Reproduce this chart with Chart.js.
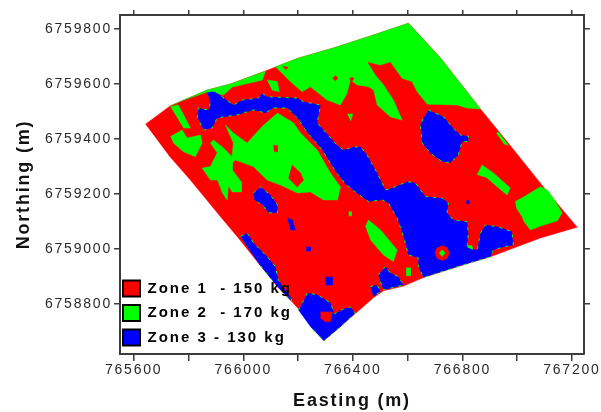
<!DOCTYPE html>
<html>
<head>
<meta charset="utf-8">
<script src="https://cdn.jsdelivr.net/npm/chart.js@4/dist/chart.umd.min.js"></script>
<style>
    html, body { margin: 0; background: #fff; }
    canvas { display: block; filter: blur(0.35px); }
</style>
</head>
<body>
<canvas id="mapa" width="601" height="412"></canvas>
<script>
const zoneNames = ['Zone 1  - 150 kg', 'Zone 2  - 170 kg', 'Zone 3 - 130 kg'];
const zoneColors = ['#ff0000', '#00ff00', '#0000ff'];

const eastingTicks = [765600, 765800, 766000, 766200, 766400, 766600, 766800, 767000, 767200];
const eastingLabels = ['765600', '', '766000', '', '766400', '', '766800', '', '767200'];
const northingTicks = [6758800, 6759000, 6759200, 6759400, 6759600, 6759800];
const northingLabels = ['6758800', '6759000', '6759200', '6759400', '6759600', '6759800'];

// zone polygons as [easting, northing]
const fieldOutline = [
    [765643, 6759453], [765734, 6759520], [765868, 6759577], [765953, 6759599], [766074, 6759644],
    [766197, 6759692], [766329, 6759730], [766475, 6759777], [766603, 6759820], [766720, 6759694],
    [766866, 6759508], [766963, 6759390], [767096, 6759225], [767219, 6759079], [767085, 6759040],
    [766902, 6758971], [766804, 6758942], [766658, 6758896], [766585, 6758865], [766512, 6758848],
    [766475, 6758822], [766417, 6758772], [766355, 6758718], [766294, 6758666], [766215, 6758767],
    [766178, 6758808], [766124, 6758863], [766055, 6758949], [765982, 6759040], [765917, 6759117],
    [765807, 6759250], [765727, 6759341]
];

const greenTop = [
    [766117, 6759661], [766197, 6759692], [766329, 6759730], [766475, 6759777], [766603, 6759820],
    [766720, 6759694], [766866, 6759508], [766817, 6759512], [766781, 6759523], [766672, 6759526],
    [766635, 6759571], [766616, 6759608], [766580, 6759620], [766537, 6759680], [766501, 6759668],
    [766452, 6759680], [766482, 6759632], [766512, 6759596], [766548, 6759541], [766580, 6759468],
    [766537, 6759480], [766489, 6759523], [766476, 6759577], [766457, 6759589], [766416, 6759596],
    [766391, 6759614], [766379, 6759566], [766355, 6759523], [766306, 6759541], [766245, 6759589],
    [766215, 6759571], [766172, 6759608], [766148, 6759632]
];
const greenCentre = [
    [766124, 6759494], [766183, 6759458], [766209, 6759421], [766270, 6759359], [766318, 6759276],
    [766355, 6759225], [766344, 6759178], [766293, 6759178], [766245, 6759207], [766198, 6759203],
    [766136, 6759232], [766087, 6759250], [766037, 6759299], [765971, 6759323], [765960, 6759312],
    [765960, 6759287], [765993, 6759243], [765993, 6759207], [765960, 6759207], [765946, 6759229],
    [765941, 6759178], [765924, 6759203], [765906, 6759250], [765880, 6759250], [765850, 6759294],
    [765880, 6759299], [765905, 6759349], [765880, 6759385], [765891, 6759396], [765928, 6759367],
    [765959, 6759335], [765964, 6759385], [765935, 6759450], [765964, 6759421], [766014, 6759385],
    [766074, 6759450]
];
const greenWest = [
    [765734, 6759408], [765777, 6759432], [765795, 6759403], [765844, 6759414], [765850, 6759385],
    [765825, 6759335], [765782, 6759353], [765745, 6759385]
];
const greenStrip = [[765734, 6759517], [765763, 6759523], [765807, 6759439], [765782, 6759439]];
const greenEdge = [
    [765734, 6759520], [765868, 6759577], [765953, 6759599], [766081, 6759646], [766070, 6759614],
    [765960, 6759588], [765928, 6759559], [765869, 6759570], [765782, 6759541]
];
const greenNotch = [[766087, 6759614], [766124, 6759608], [766132, 6759571], [766105, 6759577]];
const greenEast = [
    [766993, 6759172], [767030, 6759192], [767085, 6759226], [767110, 6759214], [767132, 6759185],
    [767164, 6759131], [767147, 6759102], [767121, 6759094], [767085, 6759083], [767048, 6759069],
    [767026, 6759098], [767018, 6759117], [766997, 6759149]
];
const greenUpper = [
    [766854, 6759269], [766872, 6759305], [766913, 6759276], [766975, 6759221], [766963, 6759196],
    [766927, 6759226], [766890, 6759258]
];
const greenOval = [
    [766446, 6759081], [766457, 6759105], [766501, 6759069], [766562, 6758996], [766548, 6758954],
    [766512, 6758978], [766464, 6759033]
];
const greenSpecks = [
    [[766595, 6758931], [766610, 6758931], [766610, 6758902], [766595, 6758902]],
    [[766385, 6759135], [766395, 6759135], [766395, 6759120], [766385, 6759120]],
    [[766380, 6759490], [766400, 6759490], [766392, 6759465]],
    [[766931, 6759425], [766968, 6759377], [766953, 6759381], [766924, 6759421]],
    [[766820, 6759012], [766835, 6759012], [766838, 6758995], [766822, 6758995]]
];

const blueMain = [
    [765868, 6759571], [765898, 6759571], [765964, 6759523], [765996, 6759541], [766055, 6759548],
    [766069, 6759566], [766087, 6759553], [766197, 6759548], [766220, 6759535], [766282, 6759523],
    [766270, 6759458], [766343, 6759377], [766366, 6759359], [766402, 6759370], [766428, 6759371],
    [766452, 6759341], [766489, 6759276], [766519, 6759214], [766543, 6759221], [766598, 6759244],
    [766628, 6759240], [766665, 6759190], [766726, 6759185], [766749, 6759167], [766744, 6759131],
    [766767, 6759105], [766817, 6759099], [766822, 6759058], [766817, 6759004], [766854, 6758996],
    [766866, 6759058], [766884, 6759087], [766927, 6759081], [766981, 6759063], [766986, 6759014],
    [766950, 6759007], [766913, 6758996], [766902, 6758971], [766804, 6758942], [766658, 6758896],
    [766639, 6758936], [766639, 6758967], [766603, 6758978], [766585, 6759045], [766562, 6759112],
    [766530, 6759167], [766507, 6759178], [766457, 6759172], [766409, 6759207], [766373, 6759236],
    [766336, 6759283], [766289, 6759359], [766230, 6759428], [766201, 6759472], [766161, 6759512],
    [766110, 6759512], [766081, 6759494], [766037, 6759505], [765978, 6759487], [765905, 6759476],
    [765886, 6759439], [765855, 6759432], [765832, 6759480], [765836, 6759512], [765873, 6759505],
    [765880, 6759530]
];
const blueOval = [
    [766676, 6759505], [766731, 6759480], [766762, 6759444], [766793, 6759414], [766822, 6759410],
    [766822, 6759390], [766799, 6759390], [766785, 6759341], [766756, 6759313], [766726, 6759317],
    [766683, 6759348], [766653, 6759385], [766647, 6759450], [766658, 6759476]
];
const blueSouth = [
    [766493, 6758905], [766519, 6758936], [766537, 6758913], [766566, 6758899], [766585, 6758869],
    [766512, 6758851], [766501, 6758881]
];
const blueNub = [[766464, 6758863], [766489, 6758869], [766501, 6758845], [766475, 6758827]];
const blueBottom = [
    [766201, 6758778], [766216, 6758804], [766234, 6758840], [766271, 6758833], [766318, 6758804],
    [766333, 6758764], [766366, 6758782], [766391, 6758789], [766409, 6758767], [766355, 6758717],
    [766294, 6758666], [766245, 6758717]
];
const blueBand = [
    [765990, 6759045], [766014, 6759058], [766037, 6759022], [766087, 6758972], [766117, 6758936],
    [766128, 6758887], [766172, 6758827], [766178, 6758808], [766124, 6758863], [766055, 6758949]
];
const blueSpot = [
    [766037, 6759203], [766063, 6759225], [766099, 6759196], [766125, 6759160], [766125, 6759131],
    [766092, 6759131], [766070, 6759160], [766041, 6759178]
];
const blueSpecks = [
    [[766161, 6759112], [766179, 6759105], [766190, 6759069], [766172, 6759069]],
    [[766300, 6758898], [766325, 6758898], [766325, 6758869], [766300, 6758869]],
    [[766230, 6759007], [766245, 6759007], [766245, 6758992], [766230, 6758992]],
    [[766815, 6759176], [766824, 6759176], [766824, 6759164], [766815, 6759164]]
];

const redIslands = [
    [[766178, 6759305], [766209, 6759276], [766220, 6759250], [766197, 6759225], [766165, 6759258]],
    [[766110, 6759377], [766125, 6759375], [766125, 6759352], [766112, 6759355]],
    [[766282, 6758771], [766325, 6758771], [766318, 6758735], [766300, 6758735], [766282, 6758749]],
    [[766726, 6759012], [766745, 6759004], [766752, 6758985], [766745, 6758966], [766726, 6758958],
     [766707, 6758966], [766700, 6758985], [766707, 6759004]],
    [[766336, 6759630], [766346, 6759621], [766336, 6759610], [766326, 6759621]],
    [[766396, 6759625], [766404, 6759618], [766396, 6759608], [766388, 6759618]],
    [[766144, 6759664], [766164, 6759660], [766154, 6759650]]
];
const greenRingCentre = [[766726, 6758997], [766737, 6758985], [766726, 6758973], [766715, 6758985]];

const eastingMin = 765550, eastingMax = 767244;
const northingMin = 6758618, northingMax = 6759850;

const textColor = '#2a2a2a';
const axisColor = '#3c3c3c';
const tickSpacing = '1.8px';
const legendSpacing = '2px';

const capa = (puntos, color, franja) => ({
    data: puntos,
    showLine: true,
    fill: 'shape',
    backgroundColor: color,
    borderColor: franja || color,
    borderWidth: franja ? 1 : 0.5,
    borderDash: franja ? [3, 5] : [],
    pointRadius: 0,
    tension: 0
});

// chart.js paints the first dataset last, so the list runs top layer first
const capas = [
    capa(fieldOutline, zoneColors[0]),
    ...[greenTop, greenCentre, greenWest, greenStrip, greenEdge, greenNotch, greenEast, greenUpper, greenOval, ...greenSpecks]
        .map(p => capa(p, zoneColors[1])),
    ...[blueMain, blueOval, blueSouth, blueNub, blueBottom, blueBand, blueSpot]
        .map(p => capa(p, zoneColors[2], zoneColors[1])),
    ...blueSpecks.map(p => capa(p, zoneColors[2])),
    ...redIslands.map(p => capa(p, zoneColors[0])),
    capa(greenRingCentre, zoneColors[1])
].reverse();

const ejeBase = {
    type: 'linear',
    border: { color: axisColor, width: 2 },
    grid: { drawOnChartArea: false, color: axisColor, lineWidth: 1.5 }
};

const ejeX = (position, alto, largoTick, conTexto) => ({
    ...ejeBase,
    position,
    min: eastingMin,
    max: eastingMax,
    grid: { ...ejeBase.grid, tickLength: largoTick },
    afterBuildTicks: axis => { axis.ticks = eastingTicks.map(value => ({ value })); },
    afterFit: axis => { axis.height = alto; },
    ticks: {
        display: conTexto,
        autoSkip: false,
        maxRotation: 0,
        padding: 1,
        color: textColor,
        font: { family: 'Liberation Sans', size: 14 },
        callback: (v, i) => eastingLabels[i]
    }
});

const ejeY = (position, ancho, conTexto) => ({
    ...ejeBase,
    position,
    min: northingMin,
    max: northingMax,
    grid: { ...ejeBase.grid, tickLength: 6 },
    afterBuildTicks: axis => { axis.ticks = northingTicks.map(value => ({ value })); },
    afterFit: axis => { axis.width = ancho; },
    ticks: {
        display: conTexto,
        autoSkip: false,
        padding: 2,
        color: textColor,
        font: { family: 'Liberation Sans', size: 14 },
        callback: (v, i) => northingLabels[i]
    }
});

const tituloEje = (text, padding) => ({
    display: true,
    text,
    color: '#111',
    padding,
    font: { family: 'Liberation Sans', size: 18, weight: 'bold' }
});

// legend goes over the map and keeps its own letter spacing
const leyendaEncima = {
    id: 'leyendaEncima',
    beforeLayout(chart) {
        const leyenda = chart.legend;
        leyenda._layers = () => [{
            z: 5,
            draw() {
                chart.ctx.letterSpacing = legendSpacing;
                leyenda.draw();
                chart.ctx.letterSpacing = tickSpacing;
            }
        }];
    },
    afterLayout(chart) {
        const leyenda = chart.legend;
        leyenda.left = 114.5;
        leyenda.right = 584;
        leyenda.top = 15;
        leyenda.bottom = 354;
    },
    beforeDraw(chart) {
        chart.ctx.letterSpacing = tickSpacing;
    }
};

new Chart(document.getElementById('mapa'), {
    type: 'scatter',
    data: { datasets: capas },
    plugins: [leyendaEncima],
    options: {
        responsive: false,
        animation: false,
        layout: { padding: 0 },
        scales: {
            x: { ...ejeX('bottom', 58, 7, true), title: tituloEje('Easting (m)', { top: 0, bottom: 0 }) },
            xArriba: ejeX('top', 15, 5, false),
            y: { ...ejeY('left', 120, true), title: tituloEje('Northing (m)', { top: 13, bottom: 0 }) },
            yDerecha: ejeY('right', 17, false)
        },
        plugins: {
            tooltip: { enabled: false },
            legend: {
                display: true,
                position: 'chartArea',
                align: 'end',
                labels: {
                    boxWidth: 17,
                    boxHeight: 16,
                    padding: 8.5,
                    color: '#1a1a1a',
                    font: { family: 'Liberation Sans', size: 15, weight: 'bold' },
                    generateLabels: () => zoneNames.map((text, i) => ({
                        text,
                        fillStyle: zoneColors[i],
                        strokeStyle: '#000',
                        lineWidth: 2,
                        hidden: false
                    }))
                }
            }
        }
    }
});
</script>
</body>
</html>
